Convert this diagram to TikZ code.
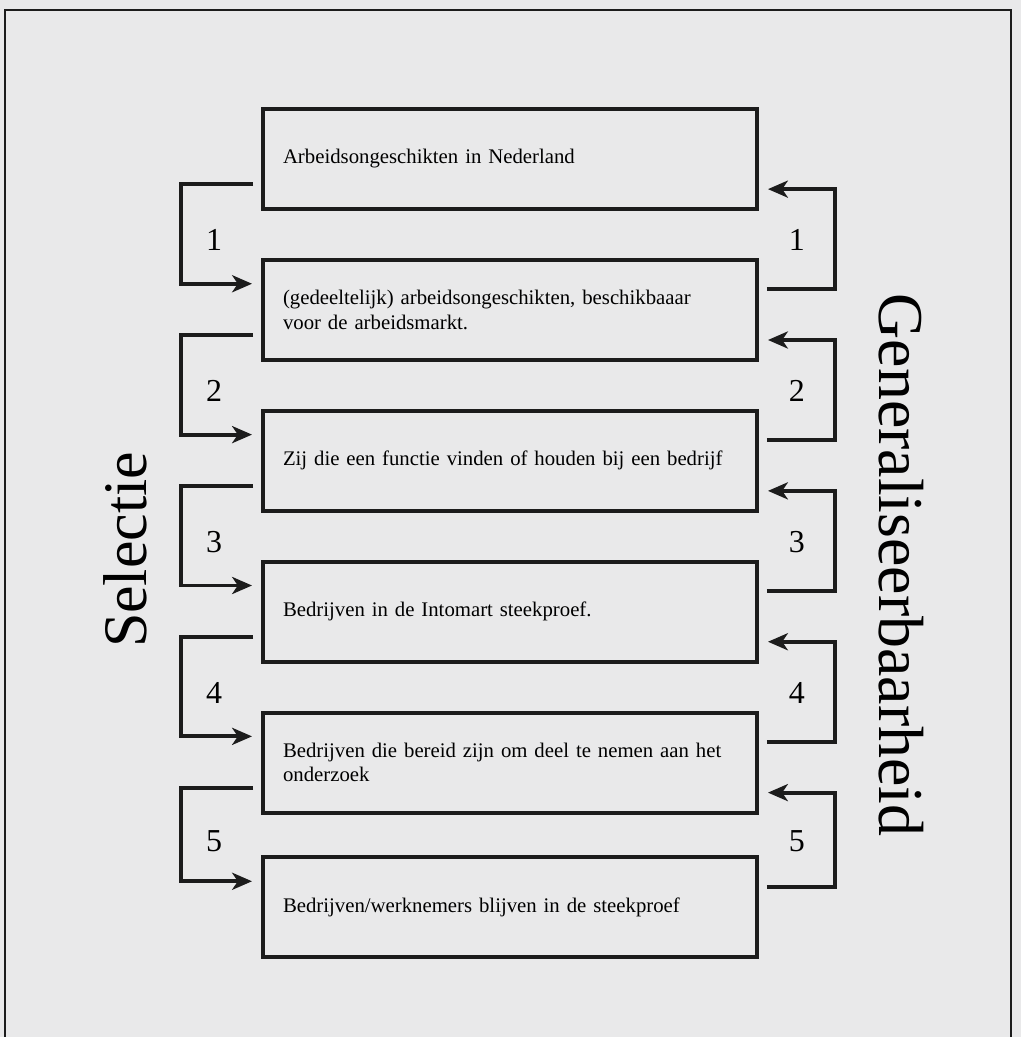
\documentclass[tikz,border=0pt]{standalone}
\usepackage{fontspec}
\setmainfont{Liberation Serif}
\usetikzlibrary{arrows.meta,positioning,calc}
\definecolor{fpaper}{HTML}{E9E9EA}
\definecolor{fink}{HTML}{1C1C1C}
\tikzset{
  stage/.style     = {draw=fink, line width=2pt, rectangle,
                      minimum width=86.9mm, minimum height=17.6mm,
                      text width=79.9mm, inner xsep=3.5mm, align=left,
                      font=\fontsize{10.4}{12.4}\selectfont},
  flow/.style      = {draw=fink, line width=2pt,
                      -{Stealth[length=3.5mm,width=3mm,inset=1mm]},
                      shorten <=1.4mm, shorten >=1.6mm},
  steplabel/.style = {font=\fontsize{16}{16}\selectfont, inner sep=0pt},
  sidetitle/.style = {font=\fontsize{31}{31}\selectfont, inner sep=0pt},
}

\begin{document}
\begin{tikzpicture}[x=0.176mm,y=-0.176mm,node distance=8.25mm]
\useasboundingbox (0,0) rectangle (1021,1037);
\fill[fpaper] (0,0) rectangle (1021,1037);
% outer frame, it runs on below the bottom edge
\draw[fink,line width=1pt] (5,1045) -- (5,10) -- (1011,10) -- (1011,1045);
% the six stages, top to bottom
\node[stage] (b1) at (510,159) {Arbeidsongeschikten in Nederland};
\node[stage,below=of b1] (b2) {(gedeeltelijk) arbeidsongeschikten, beschikbaaar\\voor de arbeidsmarkt.};
\node[stage,below=of b2] (b3) {Zij die een functie vinden of houden bij een bedrijf};
\node[stage,below=of b3] (b4) {Bedrijven in de Intomart steekproef.};
\node[stage,below=of b4] (b5) {Bedrijven die bereid zijn om deel te nemen aan het\\onderzoek};
\node[stage,below=7.2mm of b5] (b6) {Bedrijven/werknemers blijven in de steekproef};
% selection steps down the left, the way back up on the right
\foreach \i/\j in {1/2,2/3,3/4,4/5,5/6}{
  \draw[flow] ([yshift=-4.4mm]b\i.west) -- ++(-14.1mm,0) |- ([yshift=4.6mm]b\j.west);
  \draw[flow] ([yshift=3.6mm]b\j.east) -- ++(13.4mm,0) |- ([yshift=-5.3mm]b\i.east);
  \node[steplabel] (l\i) at ($(b\i.south west)!0.5!(b\j.north west)+(-47,6)$) {\i};
  \node[steplabel] (r\i) at ($(b\i.south east)!0.5!(b\j.north east)+(38,6)$) {\i};
}
% the two side titles
\node[sidetitle,rotate=90] (sel) at (125,550) {Selectie};
\node[sidetitle,rotate=-90,font=\fontsize{32}{32}\selectfont] (gen) at (901,565) {Generaliseerbaarheid};
\end{tikzpicture}
\end{document}
